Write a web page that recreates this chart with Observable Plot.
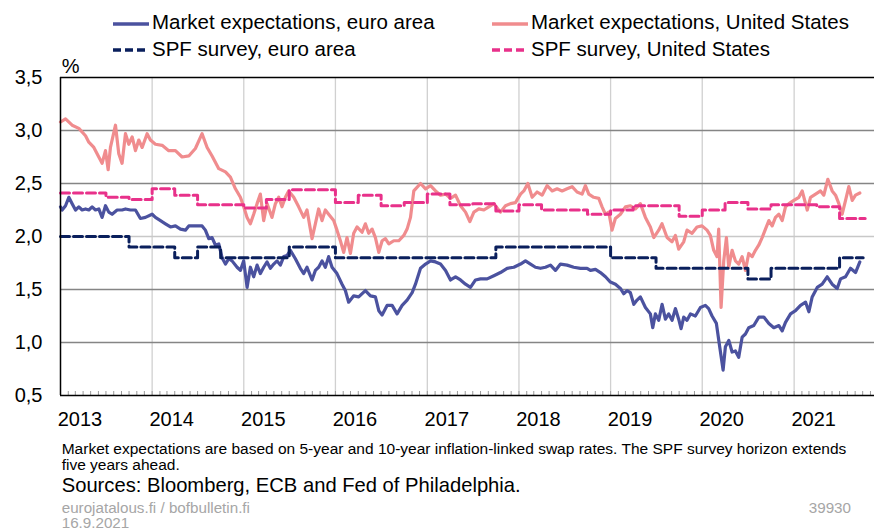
<!DOCTYPE html>
<html>
<head>
<meta charset="utf-8">
<script src="https://cdn.jsdelivr.net/npm/d3@7"></script>
<script src="https://cdn.jsdelivr.net/npm/@observablehq/plot@0.6"></script>
<style>
  body { margin: 0; background: #fff; font-family: Arial, "Liberation Sans", sans-serif; }
  #wrap { position: relative; width: 874px; height: 531px; overflow: hidden; background: #fff; }
  .abs { position: absolute; white-space: nowrap; line-height: 1; color: #000; }
  .gray { color: #a6a6a6; }
  #chart { position: absolute; left: 0; top: 56px; }
</style>
</head>
<body>
<div id="wrap"><div id="chart"></div></div>
<script>
// ---------------- DATA ----------------
// Series names / legend
const seriesNames = ["Market expectations, euro area", "Market expectations, United States", "SPF survey, euro area", "SPF survey, United States"];
const seriesColors = ["#4b529f", "#f08c8e", "#0a1f5c", "#e8318a"];

// Market expectations, euro area: [decimal year, %]
const euroMarket = [[2013.000,2.28],[2013.018,2.25],[2013.055,2.29],[2013.091,2.37],[2013.127,2.31],[2013.164,2.25],[2013.200,2.28],[2013.236,2.25],[2013.273,2.26],[2013.309,2.25],[2013.345,2.28],[2013.382,2.25],[2013.418,2.26],[2013.454,2.18],[2013.491,2.29],[2013.527,2.23],[2013.563,2.21],[2013.618,2.25],[2013.672,2.25],[2013.709,2.26],[2013.763,2.25],[2013.818,2.25],[2013.872,2.17],[2013.927,2.18],[2014.000,2.21],[2014.036,2.18],[2014.091,2.15],[2014.145,2.12],[2014.200,2.09],[2014.254,2.10],[2014.309,2.07],[2014.363,2.06],[2014.400,2.10],[2014.472,2.10],[2014.545,2.10],[2014.581,2.06],[2014.618,1.98],[2014.654,1.99],[2014.690,1.92],[2014.727,1.93],[2014.763,1.80],[2014.800,1.74],[2014.836,1.79],[2014.872,1.77],[2014.927,1.71],[2014.963,1.68],[2014.999,1.77],[2015.036,1.52],[2015.072,1.71],[2015.108,1.62],[2015.145,1.73],[2015.181,1.65],[2015.217,1.71],[2015.254,1.76],[2015.290,1.70],[2015.327,1.74],[2015.363,1.77],[2015.399,1.73],[2015.436,1.81],[2015.472,1.82],[2015.508,1.87],[2015.563,1.79],[2015.617,1.70],[2015.654,1.65],[2015.690,1.71],[2015.745,1.59],[2015.781,1.68],[2015.817,1.71],[2015.854,1.77],[2015.890,1.71],[2015.926,1.81],[2015.963,1.71],[2016.017,1.65],[2016.072,1.55],[2016.108,1.49],[2016.144,1.38],[2016.199,1.44],[2016.253,1.43],[2016.326,1.49],[2016.381,1.44],[2016.435,1.43],[2016.472,1.30],[2016.508,1.26],[2016.562,1.35],[2016.617,1.35],[2016.671,1.27],[2016.726,1.35],[2016.780,1.40],[2016.835,1.47],[2016.871,1.55],[2016.926,1.70],[2016.981,1.74],[2017.035,1.77],[2017.090,1.76],[2017.144,1.74],[2017.199,1.68],[2017.253,1.59],[2017.308,1.62],[2017.362,1.59],[2017.417,1.55],[2017.471,1.52],[2017.526,1.59],[2017.580,1.60],[2017.653,1.60],[2017.726,1.63],[2017.798,1.66],[2017.871,1.70],[2017.944,1.71],[2018.017,1.74],[2018.071,1.77],[2018.126,1.74],[2018.180,1.71],[2018.235,1.70],[2018.289,1.71],[2018.344,1.73],[2018.398,1.68],[2018.453,1.74],[2018.525,1.73],[2018.598,1.71],[2018.671,1.70],[2018.743,1.70],[2018.780,1.68],[2018.835,1.69],[2018.889,1.66],[2018.944,1.62],[2018.998,1.57],[2019.053,1.55],[2019.107,1.51],[2019.143,1.46],[2019.180,1.49],[2019.216,1.47],[2019.253,1.36],[2019.289,1.40],[2019.325,1.43],[2019.380,1.33],[2019.434,1.27],[2019.460,1.14],[2019.489,1.27],[2019.525,1.21],[2019.562,1.36],[2019.598,1.22],[2019.634,1.27],[2019.671,1.21],[2019.707,1.32],[2019.743,1.22],[2019.769,1.13],[2019.798,1.24],[2019.834,1.21],[2019.871,1.27],[2019.925,1.25],[2019.980,1.33],[2020.034,1.35],[2020.070,1.32],[2020.107,1.25],[2020.154,1.18],[2020.190,0.96],[2020.227,0.74],[2020.252,0.96],[2020.289,1.02],[2020.325,0.91],[2020.361,0.92],[2020.397,0.86],[2020.434,1.05],[2020.470,1.08],[2020.506,1.14],[2020.561,1.16],[2020.616,1.24],[2020.670,1.24],[2020.725,1.18],[2020.779,1.14],[2020.834,1.16],[2020.870,1.11],[2020.906,1.19],[2020.961,1.27],[2021.015,1.30],[2021.070,1.35],[2021.125,1.38],[2021.161,1.29],[2021.197,1.43],[2021.252,1.52],[2021.306,1.55],[2021.361,1.62],[2021.415,1.55],[2021.470,1.51],[2021.506,1.60],[2021.561,1.62],[2021.615,1.70],[2021.670,1.66],[2021.717,1.76]];

// Market expectations, United States: [decimal year, %]
const usMarket = [[2013.000,3.08],[2013.055,3.11],[2013.127,3.05],[2013.200,3.02],[2013.273,2.95],[2013.309,2.89],[2013.364,2.84],[2013.418,2.75],[2013.454,2.69],[2013.491,2.81],[2013.520,2.63],[2013.545,2.84],[2013.600,3.05],[2013.636,2.78],[2013.672,2.69],[2013.709,2.97],[2013.745,2.87],[2013.782,2.94],[2013.818,2.81],[2013.854,2.91],[2013.891,2.84],[2013.945,2.97],[2013.981,2.91],[2014.036,2.87],[2014.109,2.86],[2014.181,2.81],[2014.254,2.81],[2014.327,2.75],[2014.400,2.76],[2014.472,2.83],[2014.545,2.97],[2014.600,2.84],[2014.654,2.76],[2014.727,2.64],[2014.800,2.61],[2014.854,2.56],[2014.909,2.45],[2014.963,2.37],[2014.999,2.28],[2015.036,2.18],[2015.072,2.12],[2015.108,2.21],[2015.145,2.31],[2015.181,2.40],[2015.217,2.15],[2015.254,2.31],[2015.308,2.18],[2015.345,2.31],[2015.381,2.37],[2015.417,2.28],[2015.454,2.37],[2015.490,2.43],[2015.545,2.37],[2015.599,2.28],[2015.654,2.18],[2015.690,2.25],[2015.726,2.07],[2015.745,1.98],[2015.781,2.12],[2015.817,2.26],[2015.854,2.15],[2015.890,2.25],[2015.926,2.21],[2015.981,2.15],[2016.017,2.06],[2016.054,1.96],[2016.090,1.85],[2016.126,1.99],[2016.163,1.84],[2016.199,2.03],[2016.235,2.09],[2016.290,2.04],[2016.326,2.12],[2016.362,2.03],[2016.399,2.07],[2016.435,1.99],[2016.472,1.85],[2016.508,1.96],[2016.544,1.98],[2016.581,1.93],[2016.635,1.96],[2016.690,1.96],[2016.744,2.01],[2016.780,2.07],[2016.817,2.18],[2016.853,2.43],[2016.926,2.50],[2016.981,2.45],[2017.035,2.48],[2017.090,2.43],[2017.144,2.39],[2017.199,2.40],[2017.253,2.36],[2017.308,2.39],[2017.362,2.29],[2017.417,2.23],[2017.464,2.14],[2017.508,2.23],[2017.562,2.26],[2017.617,2.25],[2017.671,2.28],[2017.726,2.31],[2017.798,2.23],[2017.853,2.29],[2017.907,2.31],[2017.962,2.32],[2018.017,2.40],[2018.053,2.43],[2018.097,2.50],[2018.144,2.37],[2018.198,2.42],[2018.253,2.39],[2018.307,2.48],[2018.362,2.43],[2018.416,2.45],[2018.471,2.43],[2018.525,2.45],[2018.580,2.47],[2018.634,2.42],[2018.689,2.40],[2018.725,2.48],[2018.762,2.40],[2018.816,2.37],[2018.871,2.36],[2018.907,2.28],[2018.943,2.21],[2018.980,2.23],[2019.016,2.06],[2019.052,2.17],[2019.107,2.21],[2019.162,2.28],[2019.216,2.29],[2019.271,2.26],[2019.325,2.31],[2019.380,2.18],[2019.434,2.09],[2019.471,1.99],[2019.525,2.06],[2019.561,2.12],[2019.616,1.99],[2019.670,1.95],[2019.707,2.01],[2019.743,1.88],[2019.798,1.95],[2019.834,2.06],[2019.889,2.03],[2019.943,2.09],[2019.998,2.10],[2020.052,2.06],[2020.088,2.01],[2020.125,1.87],[2020.161,1.81],[2020.179,2.07],[2020.205,1.33],[2020.234,1.77],[2020.263,1.99],[2020.288,1.71],[2020.325,1.87],[2020.361,1.77],[2020.397,1.74],[2020.434,1.81],[2020.470,1.68],[2020.506,1.84],[2020.543,1.81],[2020.579,1.87],[2020.616,1.92],[2020.652,1.99],[2020.688,2.07],[2020.725,2.15],[2020.761,2.10],[2020.797,2.18],[2020.834,2.21],[2020.870,2.15],[2020.906,2.28],[2020.943,2.31],[2020.997,2.34],[2021.052,2.37],[2021.088,2.43],[2021.143,2.25],[2021.179,2.37],[2021.234,2.40],[2021.288,2.43],[2021.324,2.39],[2021.368,2.54],[2021.415,2.43],[2021.452,2.39],[2021.488,2.31],[2021.524,2.21],[2021.561,2.34],[2021.597,2.47],[2021.634,2.34],[2021.670,2.39],[2021.717,2.41]];

// SPF survey, euro area (quarterly steps): date, %
const spfEuroDates  = ["2013-01-01","2013-10-01","2014-04-01","2014-07-01","2014-10-01","2015-07-01","2016-01-01","2017-10-01","2019-01-01","2019-07-01","2020-07-01","2020-10-01","2021-07-01","2021-10-03"];
const spfEuroValues = [2.0, 1.9, 1.8, 1.9, 1.8, 1.9, 1.8, 1.9, 1.8, 1.7, 1.6, 1.7, 1.8, 1.8];

// SPF survey, United States (quarterly steps): date, %
const spfUsDates  = ["2013-01-01","2013-07-01","2013-10-01","2014-01-01","2014-04-01","2014-07-01","2015-01-01","2015-04-01","2015-07-01","2016-01-01","2016-04-01","2016-07-01","2016-10-01","2017-01-01","2017-04-01","2017-07-01","2017-10-01","2018-01-01","2018-04-01","2018-10-01","2019-01-01","2019-04-01","2019-10-01","2020-01-01","2020-04-01","2020-07-01","2020-10-01","2021-04-01","2021-07-01","2021-10-11"];
const spfUsValues = [2.41, 2.37, 2.35, 2.45, 2.39, 2.30, 2.27, 2.35, 2.44, 2.32, 2.39, 2.29, 2.32, 2.40, 2.30, 2.31, 2.24, 2.30, 2.25, 2.21, 2.25, 2.29, 2.19, 2.25, 2.32, 2.26, 2.30, 2.28, 2.17, 2.17];

// Axes
const yTicks = [0.5, 1.0, 1.5, 2.0, 2.5, 3.0, 3.5];
const yGridDark = [1.0, 1.5, 2.5, 3.0];
const yGridLight = [2.0];
const xTickYears = [2013, 2014, 2015, 2016, 2017, 2018, 2019, 2020, 2021];
const xDomainYears = [2013.0, 2021.877];
const yDomain = [0.5, 3.5];
const yUnit = "%";

// Texts
const footnoteLines = ["Market expectations are based on 5-year and 10-year inflation-linked swap rates. The SPF survey horizon extends", "five years ahead."];
const sourcesText = "Sources: Bloomberg, ECB and Fed of Philadelphia.";
const siteText = "eurojatalous.fi / bofbulletin.fi";
const dateText = "16.9.2021";
const chartId = "39930";

// ---------------- BUILD ----------------
function yearToDate(t) {
  const y = Math.floor(t);
  const s = Date.UTC(y, 0, 1), e = Date.UTC(y + 1, 0, 1);
  return new Date(s + (t - y) * (e - s));
}
const euroData = euroMarket.map(([t, v]) => ({date: yearToDate(t), value: v}));
const usData = usMarket.map(([t, v]) => ({date: yearToDate(t), value: v}));
const spfEuro = spfEuroDates.map((d, i) => ({date: new Date(d), value: spfEuroValues[i]}));
const spfUs = spfUsDates.map((d, i) => ({date: new Date(d), value: spfUsValues[i]}));
const xDomain = xDomainYears.map(yearToDate);
const xTicks = xTickYears.map(y => new Date(Date.UTC(y, 0, 1)));
const xGrid = xTicks.slice(1);
const monthTicks = d3.utcMonth.range(xDomain[0], xDomain[1]);
const fmtY = d => d.toFixed(1).replace(".", ",");

const chart = Plot.plot({
  width: 874,
  height: 379,
  marginLeft: 60,
  marginRight: 0,
  marginTop: 21,
  marginBottom: 40,
  style: {fontFamily: "Arial, 'Liberation Sans', sans-serif", fontSize: "20px", color: "#000", background: "transparent", overflow: "visible"},
  x: {type: "utc", domain: xDomain, label: null},
  y: {domain: yDomain, label: null},
  marks: [
    Plot.ruleX(xGrid, {stroke: "#d0d0d0", strokeWidth: 1.3}),
    Plot.ruleY(yGridLight, {stroke: "#c8c8c8", strokeWidth: 1.3}),
    Plot.ruleY(yGridDark, {stroke: "#858585", strokeWidth: 1.3}),
    Plot.axisX({ticks: monthTicks, tickSize: -4, text: null, label: null, stroke: "#9a9a9a", strokeWidth: 1}),
    Plot.axisX({ticks: xTicks, tickFormat: d3.utcFormat("%Y"), tickSize: 0, tickPadding: 16, dx: 19.5, fontSize: 20, fill: "#000", label: null}),
    Plot.axisY({ticks: yTicks, tickFormat: fmtY, tickSize: 0, tickPadding: 18, fontSize: 20, fill: "#000", label: null}),
    Plot.line(usData, {x: "date", y: "value", stroke: seriesColors[1], strokeWidth: 3.2, strokeLinejoin: "round"}),
    Plot.line(euroData, {x: "date", y: "value", stroke: seriesColors[0], strokeWidth: 3.2, strokeLinejoin: "round"}),
    Plot.line(spfUs, {x: "date", y: "value", stroke: seriesColors[3], strokeWidth: 3, curve: "step-after", strokeDasharray: "9,4"}),
    Plot.line(spfEuro, {x: "date", y: "value", stroke: seriesColors[2], strokeWidth: 3, curve: "step-after", strokeDasharray: "9,4"}),
    Plot.ruleY(yDomain, {stroke: "#000", strokeWidth: 1.5}),
    Plot.ruleX(xDomain.slice(0, 1), {stroke: "#000", strokeWidth: 1.5})
  ]
});
document.getElementById("chart").appendChild(chart);

// ---------------- HTML TEXTS ----------------
const wrap = document.getElementById("wrap");
function addText(text, {left, right, baseline, size, cls = ""}) {
  const d = document.createElement("div");
  d.className = "abs " + cls;
  d.textContent = text;
  d.style.fontSize = size + "px";
  d.style.top = (baseline - 0.8465 * size) + "px";
  if (left != null) d.style.left = left + "px";
  if (right != null) d.style.right = right + "px";
  wrap.appendChild(d);
  return d;
}
function addSwatch(x, y, color, dashed) {
  const ns = "http://www.w3.org/2000/svg";
  const s = document.createElementNS(ns, "svg");
  s.setAttribute("width", 40); s.setAttribute("height", 8);
  s.style.position = "absolute"; s.style.left = x + "px"; s.style.top = (y - 4) + "px";
  const l = document.createElementNS(ns, "line");
  l.setAttribute("x1", 0); l.setAttribute("x2", 36); l.setAttribute("y1", 4); l.setAttribute("y2", 4);
  l.setAttribute("stroke", color); l.setAttribute("stroke-width", 3.5);
  if (dashed) l.setAttribute("stroke-dasharray", "8,4");
  s.appendChild(l);
  wrap.appendChild(s);
}
// Legend (2 x 2)
const legendPos = [[113, 23.5, 152, 29.3], [492, 23.5, 531, 29.3], [113, 50, 152, 56], [492, 50, 531, 56]];
seriesNames.forEach((name, i) => {
  const [sx, sy, tx, tb] = legendPos[i];
  addSwatch(sx, sy, seriesColors[i], i >= 2);
  addText(name, {left: tx, baseline: tb, size: 20.5});
});
addText(yUnit, {left: 61.7, baseline: 73.3, size: 20});
addText(footnoteLines[0], {left: 61.7, baseline: 453.8, size: 15.5});
addText(footnoteLines[1], {left: 61.7, baseline: 470, size: 15.5});
addText(sourcesText, {left: 61.7, baseline: 492, size: 20.2});
addText(siteText, {left: 61.7, baseline: 512.6, size: 15.2, cls: "gray"});
addText(dateText, {left: 61.7, baseline: 528.3, size: 15.2, cls: "gray"});
addText(chartId, {right: 874 - 851, baseline: 512.6, size: 15.2, cls: "gray"});
</script>
</body>
</html>
